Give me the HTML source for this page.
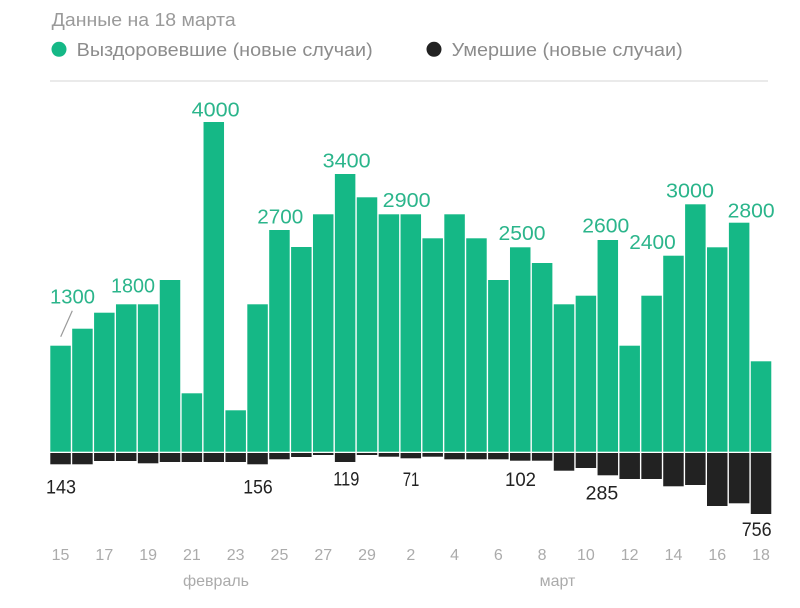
<!DOCTYPE html>
<html><head><meta charset="utf-8">
<style>
html,body{margin:0;padding:0;background:#fff;}
svg{display:block;}
text{font-family:"Liberation Sans","DejaVu Sans",sans-serif;}
</style></head>
<body>
<svg width="800" height="608" viewBox="0 0 800 608" xmlns="http://www.w3.org/2000/svg">
<rect width="800" height="608" fill="#fff"/>
<text x="51.7" y="26" font-size="18" fill="#9a9a9a" textLength="184" lengthAdjust="spacingAndGlyphs">Данные на 18 марта</text>
<circle cx="59" cy="49.3" r="7.5" fill="#15b886"/>
<text x="76.7" y="56" font-size="18" fill="#8c8c8c" textLength="296" lengthAdjust="spacingAndGlyphs">Выздоровевшие (новые случаи)</text>
<circle cx="434" cy="49.3" r="7.5" fill="#222"/>
<text x="451.7" y="56" font-size="18" fill="#8c8c8c" textLength="231" lengthAdjust="spacingAndGlyphs">Умершие (новые случаи)</text>
<line x1="50" y1="81" x2="768" y2="81" stroke="#e3e3e3" stroke-width="1.5"/>

<g fill="#15b886">
<rect x="50.3" y="345.7" width="20.5" height="106"/>
<rect x="72.19" y="328.7" width="20.5" height="123"/>
<rect x="94.08" y="312.7" width="20.5" height="139"/>
<rect x="115.97" y="304.3" width="20.5" height="147.4"/>
<rect x="137.86" y="304.3" width="20.5" height="147.4"/>
<rect x="159.75" y="280" width="20.5" height="171.7"/>
<rect x="181.64" y="393.3" width="20.5" height="58.4"/>
<rect x="203.53" y="122" width="20.5" height="329.7"/>
<rect x="225.42" y="410.3" width="20.5" height="41.4"/>
<rect x="247.31" y="304.3" width="20.5" height="147.4"/>
<rect x="269.2" y="230" width="20.5" height="221.7"/>
<rect x="291.09" y="247" width="20.5" height="204.7"/>
<rect x="312.98" y="214.3" width="20.5" height="237.4"/>
<rect x="334.87" y="174" width="20.5" height="277.7"/>
<rect x="356.76" y="197.3" width="20.5" height="254.4"/>
<rect x="378.65" y="214.3" width="20.5" height="237.4"/>
<rect x="400.54" y="214.3" width="20.5" height="237.4"/>
<rect x="422.43" y="238.3" width="20.5" height="213.4"/>
<rect x="444.32" y="214.3" width="20.5" height="237.4"/>
<rect x="466.21" y="238.3" width="20.5" height="213.4"/>
<rect x="488.1" y="280" width="20.5" height="171.7"/>
<rect x="509.99" y="247.3" width="20.5" height="204.4"/>
<rect x="531.88" y="263" width="20.5" height="188.7"/>
<rect x="553.77" y="304.3" width="20.5" height="147.4"/>
<rect x="575.66" y="295.7" width="20.5" height="156"/>
<rect x="597.55" y="240" width="20.5" height="211.7"/>
<rect x="619.44" y="345.7" width="20.5" height="106"/>
<rect x="641.33" y="295.7" width="20.5" height="156"/>
<rect x="663.22" y="255.7" width="20.5" height="196"/>
<rect x="685.11" y="204.3" width="20.5" height="247.4"/>
<rect x="707" y="247.3" width="20.5" height="204.4"/>
<rect x="728.89" y="222.7" width="20.5" height="229"/>
<rect x="750.78" y="361.3" width="20.5" height="90.4"/>
</g>

<g fill="#222">
<rect x="50.3" y="453" width="20.5" height="11.3"/>
<rect x="72.19" y="453" width="20.5" height="11.3"/>
<rect x="94.08" y="453" width="20.5" height="8"/>
<rect x="115.97" y="453" width="20.5" height="8"/>
<rect x="137.86" y="453" width="20.5" height="10.3"/>
<rect x="159.75" y="453" width="20.5" height="9"/>
<rect x="181.64" y="453" width="20.5" height="9"/>
<rect x="203.53" y="453" width="20.5" height="9"/>
<rect x="225.42" y="453" width="20.5" height="9"/>
<rect x="247.31" y="453" width="20.5" height="11.3"/>
<rect x="269.2" y="453" width="20.5" height="6.3"/>
<rect x="291.09" y="453" width="20.5" height="4"/>
<rect x="312.98" y="453" width="20.5" height="2"/>
<rect x="334.87" y="453" width="20.5" height="9"/>
<rect x="356.76" y="453" width="20.5" height="2"/>
<rect x="378.65" y="453" width="20.5" height="3.7"/>
<rect x="400.54" y="453" width="20.5" height="5.3"/>
<rect x="422.43" y="453" width="20.5" height="3.7"/>
<rect x="444.32" y="453" width="20.5" height="6.3"/>
<rect x="466.21" y="453" width="20.5" height="6.3"/>
<rect x="488.1" y="453" width="20.5" height="6.3"/>
<rect x="509.99" y="453" width="20.5" height="7.7"/>
<rect x="531.88" y="453" width="20.5" height="7.7"/>
<rect x="553.77" y="453" width="20.5" height="17.7"/>
<rect x="575.66" y="453" width="20.5" height="15"/>
<rect x="597.55" y="453" width="20.5" height="22.3"/>
<rect x="619.44" y="453" width="20.5" height="26"/>
<rect x="641.33" y="453" width="20.5" height="26"/>
<rect x="663.22" y="453" width="20.5" height="33.3"/>
<rect x="685.11" y="453" width="20.5" height="32"/>
<rect x="707" y="453" width="20.5" height="53"/>
<rect x="728.89" y="453" width="20.5" height="50.3"/>
<rect x="750.78" y="453" width="20.5" height="61"/>
</g>

<line x1="72.3" y1="310.7" x2="60.7" y2="336.7" stroke="#9a9a9a" stroke-width="1.2"/>

<g font-size="20" fill="#2bb58b">
<text x="50" y="303.3" textLength="45" lengthAdjust="spacingAndGlyphs">1300</text>
<text x="111" y="292.7" textLength="44" lengthAdjust="spacingAndGlyphs">1800</text>
<text x="191.7" y="116.7" textLength="48" lengthAdjust="spacingAndGlyphs">4000</text>
<text x="257.3" y="223.3" textLength="46" lengthAdjust="spacingAndGlyphs">2700</text>
<text x="322.7" y="167.3" textLength="48" lengthAdjust="spacingAndGlyphs">3400</text>
<text x="382.7" y="207" textLength="48" lengthAdjust="spacingAndGlyphs">2900</text>
<text x="498.5" y="240" textLength="47" lengthAdjust="spacingAndGlyphs">2500</text>
<text x="582.3" y="232.7" textLength="47" lengthAdjust="spacingAndGlyphs">2600</text>
<text x="629.3" y="249" textLength="46.4" lengthAdjust="spacingAndGlyphs">2400</text>
<text x="666" y="197.3" textLength="48" lengthAdjust="spacingAndGlyphs">3000</text>
<text x="727.7" y="217.3" textLength="47" lengthAdjust="spacingAndGlyphs">2800</text>
</g>

<g font-size="19" fill="#222">
<text x="46" y="493.3" textLength="30" lengthAdjust="spacingAndGlyphs">143</text>
<text x="243.3" y="493.3" textLength="29.4" lengthAdjust="spacingAndGlyphs">156</text>
<text x="333.3" y="485.7" textLength="26" lengthAdjust="spacingAndGlyphs">119</text>
<text x="402.7" y="486" textLength="16.6" lengthAdjust="spacingAndGlyphs">71</text>
<text x="505" y="486" textLength="31" lengthAdjust="spacingAndGlyphs">102</text>
<text x="585.7" y="499.3" textLength="32.6" lengthAdjust="spacingAndGlyphs">285</text>
<text x="741.7" y="536" textLength="30" lengthAdjust="spacingAndGlyphs">756</text>
</g>

<g font-size="16" fill="#ababab" text-anchor="middle">
<text x="60.55" y="560">15</text>
<text x="104.33" y="560">17</text>
<text x="148.11" y="560">19</text>
<text x="191.89" y="560">21</text>
<text x="235.67" y="560">23</text>
<text x="279.45" y="560">25</text>
<text x="323.23" y="560">27</text>
<text x="367.01" y="560">29</text>
<text x="410.79" y="560">2</text>
<text x="454.57" y="560">4</text>
<text x="498.35" y="560">6</text>
<text x="542.13" y="560">8</text>
<text x="585.91" y="560">10</text>
<text x="629.69" y="560">12</text>
<text x="673.47" y="560">14</text>
<text x="717.25" y="560">16</text>
<text x="761.03" y="560">18</text>
<text x="216" y="586">февраль</text>
<text x="557.5" y="586">март</text>
</g>
</svg>
</body></html>
